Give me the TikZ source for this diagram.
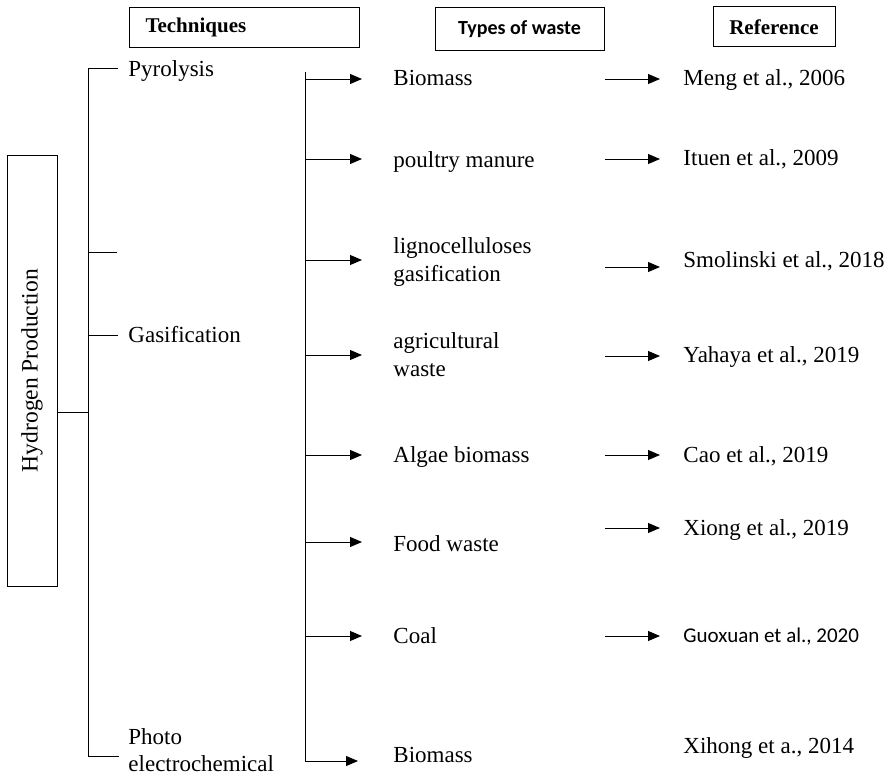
\documentclass[tikz,border=0pt]{standalone}
\usepackage{fontspec}
\setmainfont{Liberation Serif}
\newfontfamily\calib{Carlito}
\usetikzlibrary{arrows.meta}
\begin{document}
\begin{tikzpicture}[x=1pt,y=-1pt,
  line width=0.9pt,
  box/.style={draw, line width=1pt, inner sep=0pt},
  hdr/.style={font=\bfseries\fontsize{21}{25}\selectfont},
  lab/.style={inner sep=0pt, font=\fontsize{23}{28}\selectfont, align=left},
  arr/.style={-{Triangle[length=12pt,width=10pt]}},
]
\useasboundingbox (0,0) rectangle (893,776);
% headers
\node[box, hdr, anchor=north west, minimum width=230pt, minimum height=40pt,
      text width=198pt, inner xsep=16pt, align=left] (tech) at (129,7) {Techniques};
\node[box, font=\calib\bfseries\fontsize{20}{24}\selectfont,
      minimum width=169pt, minimum height=43pt] (types) at (519.5,29.5) {Types of waste};
\node[box, hdr, minimum width=122pt, minimum height=40pt] (ref) at (774,27) {Reference};
% root
\node[box, rotate=90, minimum width=431pt, minimum height=50pt,
      font=\fontsize{23.5}{28}\selectfont] (hp) at (32,370.5) {Hydrogen Production};
% techniques bracket
\coordinate (j0) at (57,412);
\coordinate (t0) at (88,412);
\coordinate (ttop) at (88,68);
\coordinate (tbot) at (88,756);
\coordinate (tmid) at (88,252);
\coordinate (tgas) at (88,335);
\draw (j0) -- (t0);
\draw (ttop) -- (tbot);
\draw (ttop) -- ++(30,0);
\draw (tmid) -- ++(29,0);
\draw (tgas) -- ++(30,0);
\draw (tbot) -- ++(31,0);
\node[lab, anchor=base west] (pyro) at (128,77) {Pyrolysis};
\node[lab, anchor=north west, font=\fontsize{23}{26.5}\selectfont] (photo) at (128,728.5) {Photo\\electrochemical};
\node[lab, anchor=base west] (gasi) at (128,342) {Gasification};
% waste trunk
\coordinate (wtop) at (305,72);
\coordinate (wbot) at (305,761);
\draw (wtop) -- (wbot);
\foreach \i/\y in {1/79,2/159,3/260,4/355,5/455,6/542,7/636}{
  \coordinate (wa\i) at (305,\y);
  \coordinate (wb\i) at (362,\y);
  \draw[arr] (wa\i) -- (wb\i);
}
\coordinate (wb8) at (358,761);
\draw[arr] (wbot) -- (wb8);
% waste labels
\node[lab, anchor=base west] (w1) at (393,85) {Biomass};
\node[lab, anchor=base west] (w2) at (393,167) {poultry manure};
\node[lab, anchor=north west] (w3) at (393,237.3) {lignocelluloses\\gasification};
\node[lab, anchor=north west] (w4) at (393,332.3) {agricultural\\waste};
\node[lab, anchor=base west] (w5) at (393,462) {Algae biomass};
\node[lab, anchor=base west] (w6) at (393,551) {Food waste};
\node[lab, anchor=base west] (w7) at (393,643) {Coal};
\node[lab, anchor=base west] (w8) at (393,762) {Biomass};
% reference arrows
\foreach \i/\y in {1/79,2/159,3/267,4/356,5/455,6/528,7/636}{
  \coordinate (ra\i) at (605,\y);
  \coordinate (rb\i) at (660,\y);
  \draw[arr] (ra\i) -- (rb\i);
}
% references
\node[lab, anchor=base west] (r1) at (683,85) {Meng et al., 2006};
\node[lab, anchor=base west] (r2) at (683,165) {Ituen et al., 2009};
\node[lab, anchor=base west] (r3) at (683,267) {Smolinski et al., 2018};
\node[lab, anchor=base west] (r4) at (683,362) {Yahaya et al., 2019};
\node[lab, anchor=base west] (r5) at (683,462) {Cao et al., 2019};
\node[lab, anchor=base west] (r6) at (683,535) {Xiong et al., 2019};
\node[lab, anchor=base west, font=\calib\fontsize{21}{25}\selectfont] (r7) at (683,642) {Guoxuan et al., 2020};
\node[lab, anchor=base west] (r8) at (683,753) {Xihong et a., 2014};
\end{tikzpicture}
\end{document}
